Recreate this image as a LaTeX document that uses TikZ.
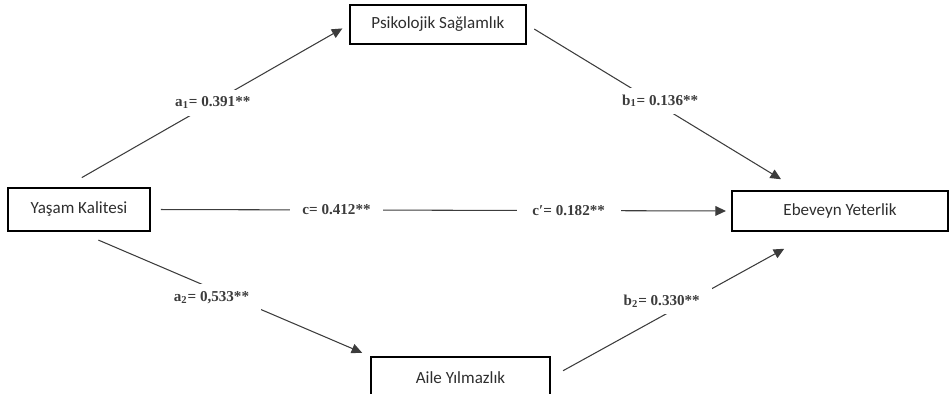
\documentclass[tikz,border=0pt]{standalone}
\usepackage{fontspec}
\setmainfont{Liberation Serif}
\newfontfamily\kutufont{Carlito}
\definecolor{cizgiGri}{HTML}{3C3C3C}
\definecolor{yaziGri}{HTML}{2E2E2E}
\usetikzlibrary{
	arrows.meta,
	positioning
}
\tikzset{
	kutu/.style={
		draw=black,
		line width=0.9pt,
		inner sep=0pt,
		text=yaziGri,
		font=\kutufont\fontsize{9.7}{12}\selectfont
	},
	ok/.style={
		-{Triangle[length=6pt,width=5.5pt]},
		line width=0.6pt,
		cizgiGri
	},
	etiket/.style={
		fill=white,
		inner xsep=7pt,
		inner ysep=4pt,
		font=\fontsize{8.6}{10}\selectfont\bfseries
	}
}
\begin{document}
\begin{tikzpicture}[x=0.02cm, y=-0.02cm]
		\useasboundingbox (0,0) rectangle (949,394);
		% kutular
		\node[kutu, minimum width=2.84cm, minimum height=0.86cm] (yasam) at (79,209.5) {Yaşam Kalitesi};
		\node[kutu, minimum width=3.52cm, minimum height=0.78cm] (psik) at (438,24.5) {Psikolojik Sağlamlık};
		\node[kutu, minimum width=3.58cm, minimum height=0.82cm] (aile) at (460.5,377.5) {Aile Yılmazlık};
		\node[kutu, minimum width=4.32cm, minimum height=0.80cm] (ebev) at (840,211) {Ebeveyn Yeterlik};
		% yollar
		\draw[ok, shorten <=11pt, shorten >=4.5pt] ([xshift=-0.28cm]yasam.north) -- node[etiket, pos=0.52] (a1) {a\textsubscript{1}= 0.391**} (psik.west);
		\draw[ok, shorten <=5pt, shorten >=12pt] (psik.east) -- node[etiket, pos=0.49, yshift=0.1cm] (b1) {b\textsubscript{1}= 0.136**} ([xshift=-0.82cm]ebev.north);
		\draw[ok, shorten <=12pt, shorten >=5pt] (yasam.south) -- node[etiket, pos=0.455, yshift=-0.18cm] (a2) {a\textsubscript{2}= 0,533**} (aile.north west);
		\draw[ok, shorten <=8pt, shorten >=20pt] (aile.east) -- node[etiket, pos=0.42, yshift=0.3cm] (b2) {b\textsubscript{2}= 0.330**} ([xshift=-0.5cm]ebev.south);
		\draw[ok, shorten <=5.7pt, shorten >=3pt] (yasam.east) --
			node[etiket, pos=0.32] (c) {c= 0.412**}
			node[etiket, pos=0.72, inner xsep=9pt] (cp) {c′= 0.182**} (ebev.west);
	\end{tikzpicture}
\end{document}
